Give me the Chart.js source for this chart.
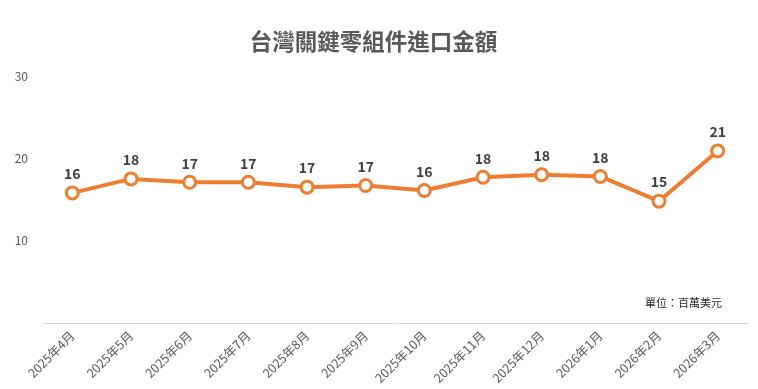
<!DOCTYPE html>
<html>
<head>
<meta charset="utf-8">
<script src="https://cdn.jsdelivr.net/npm/chart.js@4"></script>
<style>
  html, body { margin: 0; padding: 0; background: #fff; }
  #wrap { width: 758px; height: 389px; position: relative; }
</style>
</head>
<body>
<div id="wrap"><canvas id="importChart" width="758" height="389"></canvas></div>
<script>
// Data
const months = ["2025年4月", "2025年5月", "2025年6月", "2025年7月", "2025年8月", "2025年9月",
  "2025年10月", "2025年11月", "2025年12月", "2026年1月", "2026年2月", "2026年3月"]
const importValues = [15.8, 17.5, 17.1, 17.1, 16.5, 16.7, 16.1, 17.7, 18.0, 17.8, 14.8, 20.9]
const yTicks = [10, 20, 30]

const chartTitle = "台灣關鍵零組件進口金額"
const unitText = "單位：百萬美元"
const fontFamily = "'Noto Sans CJK TC', 'Noto Sans', sans-serif"

// Value labels above each point + unit note
const labelPlugin = {
  id: "valueLabels",
  afterDatasetsDraw(chart) {
    const ctx = chart.ctx
    const meta = chart.getDatasetMeta(0)
    ctx.save()
    ctx.font = "bold 14px " + fontFamily
    ctx.fillStyle = "#404040"
    ctx.textAlign = "center"
    ctx.textBaseline = "bottom"
    meta.data.forEach((pt, i) => {
      ctx.fillText(Math.round(importValues[i]), pt.x, pt.y - 12)
    })
    // unit text
    ctx.font = "11px " + fontFamily
    ctx.fillStyle = "#262626"
    ctx.textAlign = "right"
    ctx.textBaseline = "middle"
    ctx.fillText(unitText, chart.chartArea.right - 25, 303)
    ctx.restore()
  },
}

const ctx = document.getElementById("importChart").getContext("2d")
new Chart(ctx, {
  type: "line",
  data: {
    labels: months,
    datasets: [
      {
        data: importValues,
        borderColor: "#ED7D31",
        borderWidth: 4,
        pointRadius: 6,
        pointBorderWidth: 3,
        pointBackgroundColor: "#ffffff",
        pointBorderColor: "#ED7D31",
        tension: 0,
      },
    ],
  },
  options: {
    responsive: false,
    animation: false,
    layout: { padding: { left: 0, right: 11, top: 0, bottom: 0 } },
    plugins: {
      legend: { display: false },
      tooltip: { enabled: false },
      title: {
        display: true,
        text: chartTitle,
        color: "#595959",
        font: { family: fontFamily, size: 22.5, weight: "bold" },
        padding: { top: 28, bottom: 21 },
      },
    },
    scales: {
      x: {
        offset: true,
        grid: { display: false, drawTicks: false },
        border: { display: true, color: "#d9d9d9", width: 1 },
        ticks: {
          color: "#595959",
          font: { family: fontFamily, size: 12.5 },
          minRotation: 45,
          maxRotation: 45,
          padding: 5,
        },
        afterFit: (s) => { s.height = 66 },
      },
      y: {
        min: 0,
        max: 30,
        grid: { display: false, drawTicks: false },
        border: { display: false },
        afterBuildTicks: (s) => { s.ticks = [0].concat(yTicks).map((v) => ({ value: v })) },
        ticks: {
          color: "#595959",
          font: { family: fontFamily, size: 12 },
          padding: 15,
          callback: (v) => (v === 0 ? "" : v),
        },
        afterFit: (s) => { s.width = 43 },
      },
    },
  },
  plugins: [labelPlugin],
})
</script>
</body>
</html>
